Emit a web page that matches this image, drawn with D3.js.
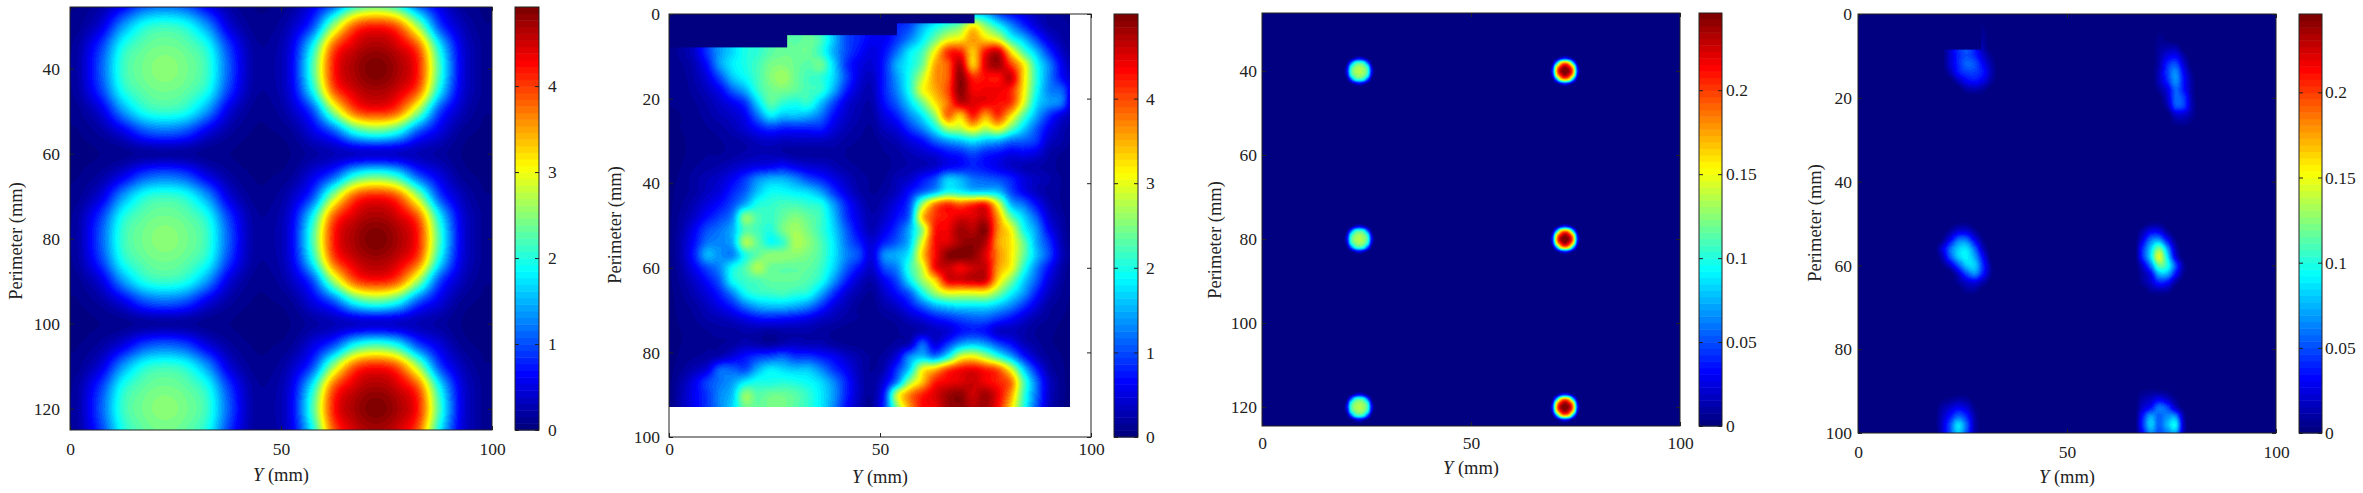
<!DOCTYPE html>
<html>
<head>
<meta charset="utf-8">
<script src="https://cdn.jsdelivr.net/npm/d3@7"></script>
<style>
  html, body { margin: 0; background: #fff; }
  svg { display: block; }
  text { font-family: "Liberation Serif", serif; fill: #222; }
</style>
</head>
<body>
<div id="chart"></div>
<script>
// values. rows go along Perimeter, columns along Y

// panel 1, calculated 5 mm grid. the row shape repeats for each line of spots
const cols1 = [0,2.5,7.5,12.5,17.5,22.5,27.5,32.5,37.5,42.5,47.5,52.5,57.5,62.5,67.5,72.5,77.5,82.5,87.5,92.5,97.5,100];
const rows1 = [25,30,35,40,45,50,55,60,65,70,75,80,85,90,95,100,105,110,115,120,125];
const c0 = [.15,.3,1.1,2.1,2.4,2.5,2.4,2.1,1.1,.3,.2,.6,2.2,4.15,4.7,4.9,4.7,4.15,2.2,.6,.15,.1];
const c1 = [.13,.27,.95,1.95,2.3,2.4,2.3,1.95,.95,.27,.18,.55,1.9,3.85,4.5,4.7,4.5,3.85,1.9,.55,.15,.1];
const c2 = [.1,.15,.5,1.35,1.95,2.1,1.95,1.35,.5,.15,.12,.35,1,2.6,3.85,4.15,3.85,2.6,1,.35,.1,.08];
const c3 = [.06,.08,.2,.5,.95,1.1,.95,.5,.2,.08,.07,.15,.5,1,1.9,2.2,1.9,1,.5,.15,.06,.05];
const c4 = [.04,.05,.08,.12,.18,.2,.18,.12,.08,.05,.05,.08,.2,.3,.38,.42,.38,.3,.2,.08,.04,.04];
const heat1 = [c3,c2,c1,c0,c1,c2,c3,c4,c3,c2,c1,c0,c1,c2,c3,c4,c3,c2,c1,c0,c1];

// panel 2, measured 3 mm grid
const cols2 = [0,3,6,9,12,15,18,21,24,27,30,33,36,39,42,45,48,51,54,57,60,63,66,69,72,75,78,81,84,87,90,93,95];
const rows2 = [0,3,6,9,12,15,18,21,24,27,30,33,36,39,42,45,48,51,54,57,60,63,66,69,72,75,78,81,84,87,90,93];
const heat2 = [
  [.1,.2,.4,.9,1.4,1.7,2,2.1,2.3,2.4,2.3,2.3,2.1,1.5,1,.8,.6, .5,.6,.8,1,1.2,1.4,1.5,1.6,1.5,1,.7,.5,.3,.2,.15,.1],
  [.1,.2,.4,.9,1.4,1.7,2,2.1,2.3,2.4,2.3,2.3,2.1,1.5,1,.8,.6, .5,.8,1,1.5,1.9,2.2,2.5,3.2,2.6,2,1.4,.9,.5,.25,.2,.15],
  [.1,.2,.4,.9,1.4,1.7,2,2.1,2.3,2.4,2.3,2.4,2.2,1.6,1,.8,.6, .6,.9,1.3,1.8,2.4,3,3.2,3.6,3.3,3,2.1,1.6,1,.5,.25,.15],
  [.1,.2,.4,.9,1.4,1.7,2,2.1,2.3,2.4,2.4,2.4,2.1,1.5,1,.7,.5, .7,1.2,1.8,2.2,3.1,4.1,4.2,3.4,4.3,4.6,3.3,2.3,1.6,.9,.4,.2],
  [.1,.15,.3,.7,1.4,1.8,2,2.2,2.45,2.5,2.4,2.3,2.4,1.7,.9,.55,.45, .8,1.5,1.9,2.4,3.5,3.9,4.7,3.4,4.5,4.8,4.1,3.2,2,1.3,.6,.3],
  [.08,.12,.25,.5,1,1.6,1.9,2.2,2.5,2.65,2.4,2.2,2.1,1.7,1,.5,.35, .8,1.4,2,2.8,3.6,3.9,4.9,4.2,4.3,4.3,4.6,3.3,2.1,1.3,.7,.4],
  [.08,.1,.2,.35,.6,1.1,1.5,2.1,2.4,2.45,2.35,2.2,2.1,1.5,.8,.4,.3, .8,1.3,2,3,3.5,4,4.9,4.4,4.4,4.4,4.2,3.2,2,1.3,1.1,.6],
  [.08,.1,.15,.25,.4,.6,.9,1.7,2.3,2.1,2,2.1,1.6,1,.5,.3,.25, .7,1.1,1.7,2.4,3.2,3.8,4.6,4.5,4.4,4.3,4.1,3,1.8,1.4,1.2,.5],
  [.06,.08,.12,.2,.3,.4,.6,1.2,1.8,1.6,1.6,1.5,1.2,.7,.4,.25,.2, .5,.8,1.3,1.8,2.6,3.8,3.4,4.2,3.6,4.1,3.3,2.3,1.5,.9,.5,.3],
  [.06,.08,.1,.15,.2,.3,.45,.7,.9,.8,.8,.8,.8,.5,.3,.2,.15, .35,.5,.9,1.3,1.9,2.7,2.8,3.2,2.8,3.1,2.4,1.7,1.1,.6,.3,.2],
  [.05,.07,.1,.12,.15,.2,.25,.35,.4,.35,.35,.35,.35,.3,.2,.15,.12, .2,.3,.5,.7,1.1,1.4,1.6,1.8,1.6,1.5,1.2,1.1,.9,.4,.25,.15],
  [.05,.07,.1,.15,.15,.2,.25,.3,.3,.25,.2,.2,.2,.2,.15,.12,.12, .15,.2,.3,.4,.5,.7,.8,1,.8,.7,.55,.6,.5,.25,.15,.12],
  [.05,.08,.15,.2,.25,.35,.45,.55,.6,.7,.55,.45,.4,.3,.2,.15,.12, .12,.2,.25,.3,.4,.6,.7,.8,.7,.55,.4,.3,.25,.2,.12,.1],
  [.05,.1,.2,.3,.4,.6,.9,1.3,1.5,1.5,1.3,1,.8,.55,.35,.2,.15, .15,.3,.4,.7,1,1.6,1.5,1.2,1.1,1,.8,.5,.35,.25,.15,.1],
  [.05,.12,.2,.35,.5,.8,1.1,1.6,1.9,1.9,1.8,1.7,1.4,.9,.5,.25,.15, .2,.35,.7,1.1,1.5,2,1.9,1.7,1.7,1.6,1,.6,.35,.2,.15,.1],
  [.05,.15,.3,.5,.7,1,1.5,2,2.1,2.2,2.2,2.1,2,1.4,.8,.4,.2, .3,.55,1,2.6,3.7,4.1,3.9,4.1,4.2,3,1.6,1.2,.7,.3,.15,.1],
  [.05,.2,.4,.7,.95,1.3,2.5,2.25,2.15,2.35,2.5,2.35,2.15,1.6,.9,.5,.25, .4,.7,1.2,3.3,4.1,4.3,4.5,4.5,4.6,3.6,2.4,1.7,1.1,.45,.2,.1],
  [.05,.25,.6,1,1.2,1.5,2.25,2.2,2.05,2.45,2.65,2.45,2.15,1.7,1.1,.6,.3, .55,.9,1.5,2.6,4.2,4.4,4.8,4.7,4.9,3.7,3.1,2,1.4,.65,.25,.1],
  [.05,.3,.7,1.2,1.3,1.5,2.65,2.35,1.95,2.15,2.7,2.55,2.25,1.8,1.2,.8,.45, .8,1.1,1.6,3,4.3,4.5,4.8,4.9,4.7,3.6,3.2,2.4,1.5,.9,.3,.12],
  [.05,.3,.8,1.5,1.35,1.3,2,2.35,2.55,2.55,2.55,2.45,2.25,1.8,1.3,1,.5, 1.3,1.5,1.9,3.3,4.3,4.9,5,4.9,4.5,3.7,3.2,2.4,1.6,1,.35,.15],
  [.05,.25,.6,1,1.3,1.9,2.25,2.7,2.4,2.35,2.35,2.35,2.15,1.7,1.1,.7,.4, 1,1.3,2.1,2.9,4.3,4.6,4.4,4.6,4.6,3.6,3.1,2.1,1.3,.7,.25,.1],
  [.05,.2,.4,.7,1.1,1.9,2.15,2.25,2.35,2.35,2.35,2.25,2,1.4,.8,.4,.25, .6,1,1.8,2.6,3.3,4.4,4.5,4.6,4.5,3.3,2.5,1.7,1.1,.5,.2,.1],
  [.04,.15,.3,.5,.8,1.3,1.9,2.1,2.15,2.2,2.1,2,1.5,.9,.45,.25,.15, .4,.7,1.1,1.9,2.6,3,3,3,3,2.5,1.9,1.4,.8,.35,.15,.08],
  [.04,.12,.2,.35,.55,.8,1.2,1.5,1.6,1.6,1.5,1.3,.9,.5,.3,.15,.12, .25,.4,.7,1.1,1.5,1.7,1.8,1.8,1.8,1.6,1.3,.9,.5,.2,.12,.06],
  [.04,.1,.15,.25,.3,.4,.55,.7,.75,.7,.65,.55,.4,.3,.2,.15,.1, .15,.2,.35,.5,.7,.85,1,1.1,1.1,.9,.7,.45,.25,.15,.08,.05],
  [.04,.08,.12,.15,.2,.2,.25,.25,.2,.25,.25,.25,.2,.15,.12,.1,.1, .12,.15,.2,.3,.35,.45,.7,.8,.7,.4,.35,.25,.15,.1,.06,.05],
  [.04,.08,.12,.15,.15,.2,.3,.25,.2,.3,.35,.3,.3,.2,.15,.12,.1, .12,.2,.35,1.1,.5,.9,1.4,1.6,1.4,1,.7,.35,.2,.1,.06,.05],
  [.04,.1,.15,.2,.3,.5,.7,.9,1,1.1,.9,.9,.75,.6,.4,.25,.15, .2,.5,1.3,1.6,1.3,1.9,2.9,3.1,2.7,2.1,1.5,.8,.35,.15,.08,.05],
  [.04,.15,.3,.5,1.1,1.1,1,1.5,1.8,1.7,1.6,1.6,1.3,.9,.6,.3,.15, .3,.9,1.7,3,3.4,4,4.3,4.4,4.2,3.9,3,1.7,.8,.25,.1,.05],
  [.04,.25,.55,.95,1.2,1.4,1.8,2,2,2.05,2,1.9,1.7,1.3,.8,.35,.18, .5,1.3,2.6,3.4,4.2,4.4,4.5,4.6,4.4,4.2,3.8,2.3,1.2,.4,.12,.05],
  [.04,.3,.6,.9,1.3,1.6,2.55,2.3,2.4,2.4,2.3,2.1,1.8,1.4,.8,.35,.18, .8,2.8,3.7,4.2,4.5,4.8,4.9,4.6,4.8,4.4,3.6,2.2,1.2,.4,.12,.05],
  [.04,.3,.6,.9,1.3,1.7,2.4,2.35,2.45,2.45,2.3,2.1,1.8,1.3,.7,.3,.15, .9,2.5,3.6,4.3,4.4,4.8,4.9,4.7,4.8,4.3,3.3,2.1,1.1,.35,.1,.05]
];
// no-data steps along the top edge
const maskY2 = [28,54,72.4];
const maskP2 = [7.9,5,2.2];

// panel 3, calculated spots. 1 mm steps around each spot
const cols3 = [0,19.3,20.3,21.3,22.3,23.3,24.3,25.3,26.3,27.3,68.5,69.5,70.5,71.5,72.5,73.5,74.5,75.5,76.5,100];
const rows3 = [26,36,37,38,39,40,41,42,43,44,76,77,78,79,80,81,82,83,84,116,117,118,119,120,121,122,123,124,125];
const s0 = [0,0,.03,.105,.13,.135,.13,.105,.03,0,0,.042,.172,.235,.245,.235,.172,.042,0,0];
const s1 = [0,0,.02,.095,.122,.13,.122,.095,.02,0,0,.028,.15,.21,.235,.21,.15,.028,0,0];
const s2 = [0,0,.004,.05,.095,.105,.095,.05,.004,0,0,.005,.07,.15,.172,.15,.07,.005,0,0];
const s3 = [0,0,0,.004,.02,.03,.02,.004,0,0,0,0,.005,.028,.042,.028,.005,0,0,0];
const s4 = [0,0,0,0,0,0,0,0,0,0,0,0,0,0,0,0,0,0,0,0];
const heat3 = [s4,s4,s3,s2,s1,s0,s1,s2,s3,s4,s4,s3,s2,s1,s0,s1,s2,s3,s4,s4,s3,s2,s1,s0,s1,s2,s3,s4,s4];

// panel 4, measured. 2 mm steps around the spots
const cols4 = [0,18,20,22,24,26,28,30,32,34,66,68,70,72,74,76,78,80,82,100];
const rows4 = [0,6,8,10,12,14,16,18,20,22,24,26,28,48,50,52,54,56,58,60,62,64,66,68,88,90,92,94,96,98,100];
const heat4 = [
  [0, 0,0,0,0,0,0,0,0,0, 0,0,0,0,0,0,0,0,0, 0],
  [0, 0,0,0,.03,.03,.02,.008,0,0, 0,0,0,.005,.003,0,0,0,0, 0],
  [0, 0,0,.02,.04,.05,.035,.012,0,0, 0,0,0,.008,.012,.012,0,0,0, 0],
  [0, 0,0,.02,.04,.05,.04,.02,.005,0, 0,0,0,.01,.025,.03,.01,0,0, 0],
  [0, 0,0,.02,.04,.055,.05,.03,.01,0, 0,0,0,.012,.04,.05,.02,0,0, 0],
  [0, 0,0,.012,.035,.045,.045,.035,.012,0, 0,0,0,.015,.045,.065,.03,.005,0, 0],
  [0, 0,0,0,.015,.03,.035,.025,.008,0, 0,0,0,.015,.04,.065,.035,.008,0, 0],
  [0, 0,0,0,0,.01,.012,.008,0,0, 0,0,0,.008,.025,.055,.035,.008,0, 0],
  [0, 0,0,0,0,0,0,0,0,0, 0,0,0,0,.02,.055,.045,.01,0, 0],
  [0, 0,0,0,0,0,0,0,0,0, 0,0,0,0,.012,.05,.045,.012,0, 0],
  [0, 0,0,0,0,0,0,0,0,0, 0,0,0,0,0,.02,.02,.008,0, 0],
  [0, 0,0,0,0,0,0,0,0,0, 0,0,0,0,0,.006,.008,.003,0, 0],
  [0, 0,0,0,0,0,0,0,0,0, 0,0,0,0,0,0,0,0,0, 0],
  [0, 0,0,0,0,0,0,0,0,0, 0,0,0,0,0,0,0,0,0, 0],
  [0, 0,0,0,.004,.004,0,0,0,0, 0,0,.006,.006,0,0,0,0,0, 0],
  [0, 0,0,.01,.025,.025,.01,0,0,0, 0,.012,.03,.03,.01,0,0,0,0, 0],
  [0, 0,.005,.03,.06,.06,.03,.005,0,0, 0,.025,.06,.07,.035,.005,0,0,0, 0],
  [0, 0,.02,.055,.08,.085,.055,.015,0,0, 0,.04,.08,.12,.07,.015,0,0,0, 0],
  [0, 0,.012,.05,.08,.09,.07,.03,0,0, 0,.04,.085,.145,.09,.025,0,0,0, 0],
  [0, 0,.003,.02,.05,.08,.08,.04,.005,0, 0,.02,.06,.115,.1,.05,.008,0,0, 0],
  [0, 0,0,0,.02,.05,.065,.035,.005,0, 0,.01,.03,.075,.075,.035,.005,0,0, 0],
  [0, 0,0,0,.008,.02,.025,.012,0,0, 0,.008,.02,.04,.035,.01,0,0,0, 0],
  [0, 0,0,0,0,.008,.008,0,0,0, 0,0,.008,.012,.01,0,0,0,0, 0],
  [0, 0,0,0,0,0,0,0,0,0, 0,0,0,0,0,0,0,0,0, 0],
  [0, 0,0,0,0,0,0,0,0,0, 0,0,0,0,0,0,0,0,0, 0],
  [0, 0,0,0,0,0,0,0,0,0, 0,.004,.006,.006,.004,0,0,0,0, 0],
  [0, 0,.003,.006,.01,.008,0,0,0,0, 0,.012,.018,.03,.02,.006,0,0,0, 0],
  [0, 0,.01,.02,.03,.022,.005,0,0,0, 0,.02,.035,.06,.05,.02,.002,0,0, 0],
  [0, 0,.015,.035,.055,.04,.01,0,0,0, 0,.035,.07,.055,.065,.065,.01,0,0, 0],
  [0, 0,.018,.05,.085,.055,.012,0,0,0, 0,.04,.08,.055,.075,.09,.015,0,0, 0],
  [0, 0,.016,.05,.08,.05,.012,0,0,0, 0,.03,.065,.05,.06,.07,.012,0,0, 0]
];
const maskY4 = [29.5];
const maskP4 = [8.5];

const xTicks = [0,50,100];
const yTicksA = [40,60,80,100,120];
const yTicksB = [0,20,40,60,80,100];
const barTicksA = [0,1,2,3,4];
const barTicksB = [0,0.05,0.1,0.15,0.2];

// layout of the four panels, in page pixels
const panels = [
  { cols: cols1, rows: rows1, heat: heat1, maskY: [], maskP: [], pDomain: [25.5,125], yTicks: yTicksA, barMax: 4.92, barTicks: barTicksA,
    x0: 70, x1: 492, y0: 7, y1: 430, bar0: 515, bar1: 539, padX: 13, padY: 10, padBar: 9, labelY: 481, labelX: 16, labelMidY: 241 },
  { cols: cols2, rows: rows2, heat: heat2, maskY: maskY2, maskP: maskP2, pDomain: [0,100], yTicks: yTicksB, barMax: 5, barTicks: barTicksA,
    x0: 669, x1: 1091, y0: 14, y1: 437, bar0: 1114, bar1: 1138, padX: 6, padY: 9, padBar: 8, labelY: 483, labelX: 615, labelMidY: 225 },
  { cols: cols3, rows: rows3, heat: heat3, maskY: [], maskP: [], pDomain: [26.2,124.5], yTicks: yTicksA, barMax: 0.246, barTicks: barTicksB,
    x0: 1262, x1: 1680, y0: 13, y1: 426, bar0: 1699, bar1: 1722, padX: 11, padY: 5, padBar: 4, labelY: 474, labelX: 1215, labelMidY: 240 },
  { cols: cols4, rows: rows4, heat: heat4, maskY: maskY4, maskP: maskP4, pDomain: [0,100], yTicks: yTicksB, barMax: 0.246, barTicks: barTicksB,
    x0: 1858, x1: 2276, y0: 14, y1: 433, bar0: 2299, bar1: 2322, padX: 13, padY: 6, padBar: 3, labelY: 483, labelX: 1815, labelMidY: 223 }
];

const svg = d3.select("#chart").append("svg").attr("width", 2363).attr("height", 493);

// matlab jet, 64 steps like the colorbar
function jet(v) {
  const t = Math.floor(Math.min(v, 0.9999) * 64) / 63;
  const c = d => Math.max(0, Math.min(1, 1.5 - Math.abs(4 * t - d)));
  return [c(3) * 255, c(2) * 255, c(1) * 255];
}
const jetCss = v => { const c = jet(v); return `rgb(${c[0]},${c[1]},${c[2]})`; };

// smooth display of a grid (like shading interp), hermite between the knots
function hermite(xs, fs, x) {
  const n = xs.length;
  const i = Math.max(0, Math.min(n - 2, d3.bisectRight(xs, x) - 1));
  const h = xs[i + 1] - xs[i];
  const t = (x - xs[i]) / h;
  const a = i > 0 ? (fs[i + 1] - fs[i - 1]) / (xs[i + 1] - xs[i - 1]) : (fs[1] - fs[0]) / h;
  const b = i < n - 2 ? (fs[i + 2] - fs[i]) / (xs[i + 2] - xs[i]) : (fs[i + 1] - fs[i]) / h;
  return (2*t*t*t - 3*t*t + 1) * fs[i] + (t*t*t - 2*t*t + t) * h * a
    + (-2*t*t*t + 3*t*t) * fs[i + 1] + (t*t*t - t*t) * h * b;
}

function heatImage(p, x, y, color) {
  const left = Math.round(x(p.cols[0]));
  const right = Math.round(x(p.cols[p.cols.length - 1]));
  const top = Math.max(p.y0, Math.round(y(p.rows[0])));
  const bottom = Math.min(p.y1, Math.round(y(p.rows[p.rows.length - 1])));
  const w = right - left, h = bottom - top;
  const canvas = document.createElement("canvas");
  canvas.width = w;
  canvas.height = h;
  const ctx = canvas.getContext("2d");
  const img = ctx.createImageData(w, h);
  for (let i = 0; i < w; i++) {
    const yVal = x.invert(left + i + 0.5);
    const col = p.heat.map(r => hermite(p.cols, r, yVal));
    for (let j = 0; j < h; j++) {
      const val = hermite(p.rows, col, y.invert(top + j + 0.5));
      const c = jet(color(val));
      const k = (j * w + i) * 4;
      img.data[k] = c[0]; img.data[k + 1] = c[1]; img.data[k + 2] = c[2]; img.data[k + 3] = 255;
    }
  }
  ctx.putImageData(img, 0, 0);
  return { href: canvas.toDataURL(), left, top, w, h };
}

function styleAxis(g, size) {
  g.attr("font-family", null).attr("font-size", size);
  g.select(".domain").remove();
  g.selectAll("line").attr("stroke", "#222");
}

panels.forEach(p => {
  const g = svg.append("g");
  const x = d3.scaleLinear().domain([0, 100]).range([p.x0, p.x1]);
  const y = d3.scaleLinear().domain(p.pDomain).range([p.y0, p.y1]);
  const color = d3.scaleLinear().domain([0, p.barMax]).range([0, 1]).clamp(true);

  const im = heatImage(p, x, y, color);
  g.append("image")
    .attr("href", im.href)
    .attr("x", im.left).attr("y", im.top)
    .attr("width", im.w).attr("height", im.h);

  // dark blue steps where there is no data
  g.selectAll(".mask")
    .data(p.maskY)
    .enter().append("rect")
    .attr("x", p.x0)
    .attr("y", p.y0)
    .attr("width", d => x(d) - p.x0)
    .attr("height", (d, i) => y(p.maskP[i]) - p.y0)
    .attr("fill", jetCss(0));

  g.append("rect")
    .attr("x", p.x0).attr("y", p.y0)
    .attr("width", p.x1 - p.x0).attr("height", p.y1 - p.y0)
    .attr("fill", "none").attr("stroke", "#222").attr("stroke-width", 1);

  // axes, ticks point inward on all four sides
  g.append("g").attr("transform", `translate(0,${p.y1})`)
    .call(d3.axisBottom(x).tickValues(xTicks).tickSizeInner(-4).tickSizeOuter(0).tickPadding(p.padX))
    .call(styleAxis, 17.5);
  g.append("g").attr("transform", `translate(0,${p.y0})`)
    .call(d3.axisTop(x).tickValues(xTicks).tickSizeInner(-4).tickSizeOuter(0).tickFormat(""))
    .call(styleAxis, 17.5);
  g.append("g").attr("transform", `translate(${p.x0},0)`)
    .call(d3.axisLeft(y).tickValues(p.yTicks).tickSizeInner(-4).tickSizeOuter(0).tickPadding(p.padY))
    .call(styleAxis, 17.5);
  g.append("g").attr("transform", `translate(${p.x1},0)`)
    .call(d3.axisRight(y).tickValues(p.yTicks).tickSizeInner(-4).tickSizeOuter(0).tickFormat(""))
    .call(styleAxis, 17.5);

  const xLabel = g.append("text")
    .attr("x", (p.x0 + p.x1) / 2).attr("y", p.labelY)
    .attr("text-anchor", "middle").attr("font-size", 18.5);
  xLabel.append("tspan").attr("font-style", "italic").text("Y");
  xLabel.append("tspan").text(" (mm)");

  g.append("text")
    .attr("transform", `translate(${p.labelX},${p.labelMidY}) rotate(-90)`)
    .attr("text-anchor", "middle").attr("dy", "0.32em").attr("font-size", 18.5)
    .text("Perimeter (mm)");

  // colorbar
  const bar = d3.scaleLinear().domain([0, p.barMax]).range([p.y1, p.y0]);
  const steps = d3.range(64);
  g.selectAll(".step")
    .data(steps)
    .enter().append("rect")
    .attr("x", p.bar0)
    .attr("width", p.bar1 - p.bar0)
    .attr("y", d => bar((d + 1) / 64 * p.barMax))
    .attr("height", d => bar(d / 64 * p.barMax) - bar((d + 1) / 64 * p.barMax) + 0.5)
    .attr("fill", d => jetCss((d + 0.5) / 64));
  g.append("rect")
    .attr("x", p.bar0).attr("y", p.y0)
    .attr("width", p.bar1 - p.bar0).attr("height", p.y1 - p.y0)
    .attr("fill", "none").attr("stroke", "#222").attr("stroke-width", 1);
  g.append("g").attr("transform", `translate(${p.bar1},0)`)
    .call(d3.axisRight(bar).tickValues(p.barTicks).tickSizeInner(-4).tickSizeOuter(0).tickPadding(p.padBar).tickFormat(d => d))
    .call(styleAxis, 17.5);
  g.append("g").attr("transform", `translate(${p.bar0},0)`)
    .call(d3.axisLeft(bar).tickValues(p.barTicks).tickSizeInner(-4).tickSizeOuter(0).tickFormat(""))
    .call(styleAxis, 17.5);
});
</script>
</body>
</html>
